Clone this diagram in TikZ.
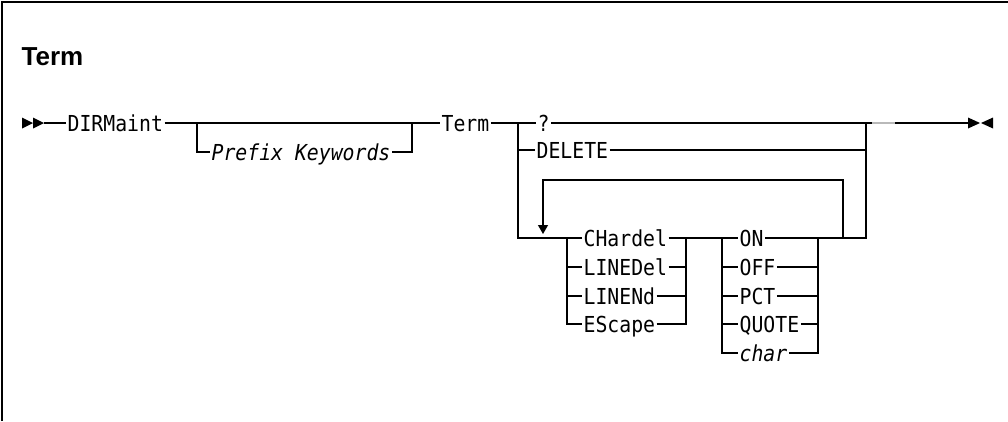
\documentclass[tikz,border=0pt]{standalone}
\usepackage{fontspec}
\setmainfont{Liberation Sans}
\newfontfamily\railfont[FakeStretch=0.9]{DejaVu Sans Mono}
\usetikzlibrary{arrows.meta}

\begin{document}
\begin{tikzpicture}[
  x=1pt, y=-1pt,
  line width=1.2pt,
  kw/.style={
    anchor=west,
    inner xsep=1pt,
    inner ysep=0pt,
    text height=16pt,
    text depth=0pt,
    font=\railfont\fontsize{22}{24}\selectfont
  },
  var/.style={kw, font=\railfont\itshape\fontsize{22}{24}\selectfont},
  loopback/.style={-{Triangle[width=10pt,length=9pt]}, shorten >=4pt}
]
\useasboundingbox (0,0) rectangle (1008,421);
\draw (2,421) -- (2,2) -- (1008,2);
\node[anchor=base west, inner sep=0pt, font=\bfseries\fontsize{26}{30}\selectfont] (title) at (21,65) {Term};

\fill (22,117.5) -- (33,123) -- (22,128.5) -- cycle;
\fill (33,117.5) -- (44,123) -- (33,128.5) -- cycle;
\coordinate (start) at (44,123);
\node[kw] (dirm) at (66,123) {DIRMaint};
\node[var] (prefix) at (210,152) {Prefix Keywords};
\node[kw] (term) at (440,123) {Term};
\node[kw] (query) at (536,123) {?};
\node[kw] (delete) at (535,150) {DELETE};
\node[kw] (chardel) at (582,238) {CHardel};
\node[kw] (linedel) at (582,267) {LINEDel};
\node[kw] (linend) at (582,296) {LINENd};
\node[kw] (escape) at (582,324) {EScape};
\node[kw] (on) at (738,238) {ON};
\node[kw] (off) at (738,267) {OFF};
\node[kw] (pct) at (738,296) {PCT};
\node[kw] (quote) at (738,324) {QUOTE};
\node[var] (char) at (738,353) {char};

\coordinate (pfxin) at (197,123);
\coordinate (pfxout) at (412,123);
\coordinate (brin) at (518,123);
\coordinate (brout) at (866,123);
\coordinate (chin) at (567,238);
\coordinate (chout) at (686,238);
\coordinate (onin) at (722,238);
\coordinate (onout) at (818,238);
\coordinate (rep) at (843,238);
\coordinate (looptop) at (843,180);
\coordinate (loopend) at (543,238);
\coordinate (stop) at (968,123);

\draw (start) -- (dirm.west);
\draw (dirm.east) -- (term.west);
\draw (pfxin) |- (prefix.west);
\draw (prefix.east) -| (pfxout);
\draw (term.east) -- (query.west);
\draw (query.east) -- (brout);
\draw (brin) |- (delete.west);
\draw (delete.east) -| (brout);
\draw (brin) |- (chin);
\draw (chin) -- (chardel.west);
\draw (chin) |- (linedel.west);
\draw (chin) |- (linend.west);
\draw (chin) |- (escape.west);
\draw (chardel.east) -- (chout);
\draw (linedel.east) -| (chout);
\draw (linend.east) -| (chout);
\draw (escape.east) -| (chout);
\draw (chout) -- (onin);
\draw (onin) -- (on.west);
\draw (onin) |- (off.west);
\draw (onin) |- (pct.west);
\draw (onin) |- (quote.west);
\draw (onin) |- (char.west);
\draw (on.east) -- (onout);
\draw (off.east) -| (onout);
\draw (pct.east) -| (onout);
\draw (quote.east) -| (onout);
\draw (char.east) -| (onout);
\draw (onout) -| (brout);
\draw[loopback] (rep) -- (looptop) -| (loopend);
\draw (brout) -- (stop);
\draw[gray!55] (872,123) -- (895,123);

\fill (968,117.5) -- (980,123) -- (968,128.5) -- cycle;
\fill (993,117.5) -- (981,123) -- (993,128.5) -- cycle;
\end{tikzpicture}
\end{document}
